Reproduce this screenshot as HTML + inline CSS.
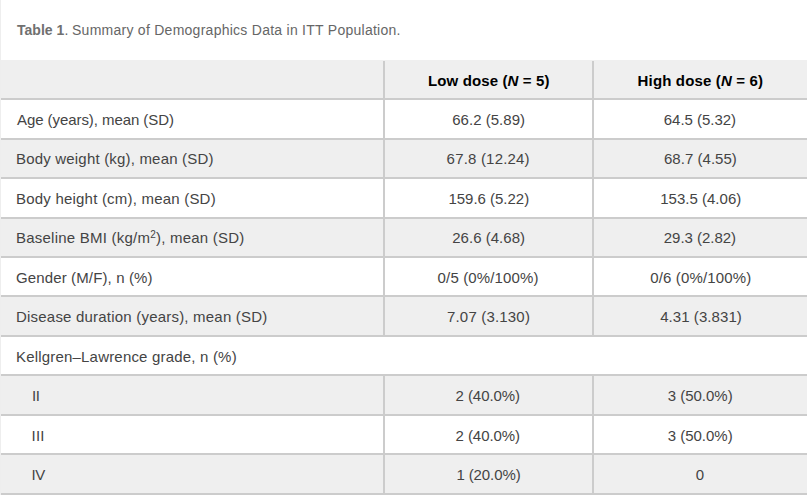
<!DOCTYPE html>
<html><head><meta charset="utf-8"><title>Table 1</title>
<style>
html,body{margin:0;padding:0;}
body{width:807px;height:495px;position:relative;overflow:hidden;background:#fff;font-family:"Liberation Sans",sans-serif;}
div{position:absolute;}
.lb{left:0;top:0;width:1px;height:495px;background:#eee;}
.bg{left:0;width:807px;background:#efefef;}
.h{left:1px;width:806px;height:2px;background:#ccc;}
.v{width:2px;background:#ccc;}
.x{white-space:nowrap;line-height:20px;}
.cap{font-size:14px;color:#666;}
.cap b{color:#707070;}
.td{font-size:15px;color:#444;}
.th{font-size:15px;font-weight:bold;color:#000;}
sup{font-size:10px;line-height:0;vertical-align:5px;}
</style></head><body>

<div class="bg" style="top:60px;height:38px"></div>
<div class="bg" style="top:140px;height:37px"></div>
<div class="bg" style="top:219px;height:37px"></div>
<div class="bg" style="top:297px;height:38px"></div>
<div class="bg" style="top:376px;height:38px"></div>
<div class="bg" style="top:455px;height:38px"></div>
<div class="lb"></div>
<div class="h" style="top:98px"></div>
<div class="h" style="top:138px"></div>
<div class="h" style="top:177px"></div>
<div class="h" style="top:217px"></div>
<div class="h" style="top:256px"></div>
<div class="h" style="top:295px"></div>
<div class="h" style="top:335px"></div>
<div class="h" style="top:374px"></div>
<div class="h" style="top:414px"></div>
<div class="h" style="top:453px"></div>
<div class="h" style="top:493px"></div>
<div class="v" style="left:383px;top:61px;height:274px"></div>
<div class="v" style="left:383px;top:374px;height:121px"></div>
<div class="v" style="left:592px;top:61px;height:274px"></div>
<div class="v" style="left:592px;top:374px;height:121px"></div>
<div class="x cap" style="left:17.00px;top:20px;letter-spacing:0.029px;"><b>Table 1</b>.</div>
<div class="x cap" style="left:72.00px;top:20px;letter-spacing:0.261px;">Summary of Demographics Data in ITT Population.</div>
<div class="x th" style="left:428.00px;top:71px;letter-spacing:0.127px;">Low dose (<i>N</i> = 5)</div>
<div class="x th" style="left:637.60px;top:71px;letter-spacing:0.156px;">High dose (<i>N</i> = 6)</div>
<div class="x td" style="left:17.00px;top:110px;letter-spacing:-0.067px;">Age (years), mean (SD)</div>
<div class="x td" style="left:452.20px;top:110px;letter-spacing:0.030px;">66.2 (5.89)</div>
<div class="x td" style="left:663.80px;top:110px;letter-spacing:-0.030px;">64.5 (5.32)</div>
<div class="x td" style="left:16.00px;top:149px;letter-spacing:0.188px;">Body weight (kg), mean (SD)</div>
<div class="x td" style="left:446.60px;top:149px;letter-spacing:0.191px;">67.8 (12.24)</div>
<div class="x td" style="left:664.00px;top:149px;letter-spacing:0.030px;">68.7 (4.55)</div>
<div class="x td" style="left:16.00px;top:189px;letter-spacing:0.208px;">Body height (cm), mean (SD)</div>
<div class="x td" style="left:448.40px;top:189px;letter-spacing:-0.009px;">159.6 (5.22)</div>
<div class="x td" style="left:660.20px;top:189px;letter-spacing:0.018px;">153.5 (4.06)</div>
<div class="x td" style="left:16.00px;top:228px;letter-spacing:0.227px;">Baseline BMI (kg/m<sup>2</sup>), mean (SD)</div>
<div class="x td" style="left:452.20px;top:228px;letter-spacing:0.030px;">26.6 (4.68)</div>
<div class="x td" style="left:663.80px;top:228px;letter-spacing:-0.030px;">29.3 (2.82)</div>
<div class="x td" style="left:16.00px;top:268px;letter-spacing:0.128px;">Gender (M/F), n (%)</div>
<div class="x td" style="left:437.60px;top:268px;letter-spacing:0.142px;">0/5 (0%/100%)</div>
<div class="x td" style="left:650.20px;top:268px;letter-spacing:0.150px;">0/6 (0%/100%)</div>
<div class="x td" style="left:16.00px;top:307px;letter-spacing:0.206px;">Disease duration (years), mean (SD)</div>
<div class="x td" style="left:447.00px;top:307px;letter-spacing:0.182px;">7.07 (3.130)</div>
<div class="x td" style="left:660.20px;top:307px;letter-spacing:0.064px;">4.31 (3.831)</div>
<div class="x td" style="left:16.00px;top:347px;letter-spacing:0.190px;">Kellgren–Lawrence grade, n (%)</div>
<div class="x td" style="left:32.00px;top:386px;letter-spacing:-0.300px;">II</div>
<div class="x td" style="left:455.60px;top:386px;letter-spacing:-0.075px;">2 (40.0%)</div>
<div class="x td" style="left:667.80px;top:386px;letter-spacing:-0.025px;">3 (50.0%)</div>
<div class="x td" style="left:31.60px;top:426px;letter-spacing:0.150px;">III</div>
<div class="x td" style="left:455.60px;top:426px;letter-spacing:-0.075px;">2 (40.0%)</div>
<div class="x td" style="left:667.80px;top:426px;letter-spacing:-0.025px;">3 (50.0%)</div>
<div class="x td" style="left:31.60px;top:465px;letter-spacing:-0.600px;">IV</div>
<div class="x td" style="left:456.40px;top:465px;letter-spacing:-0.100px;">1 (20.0%)</div>
<div class="x td" style="left:695.80px;top:465px;">0</div>
</body></html>
